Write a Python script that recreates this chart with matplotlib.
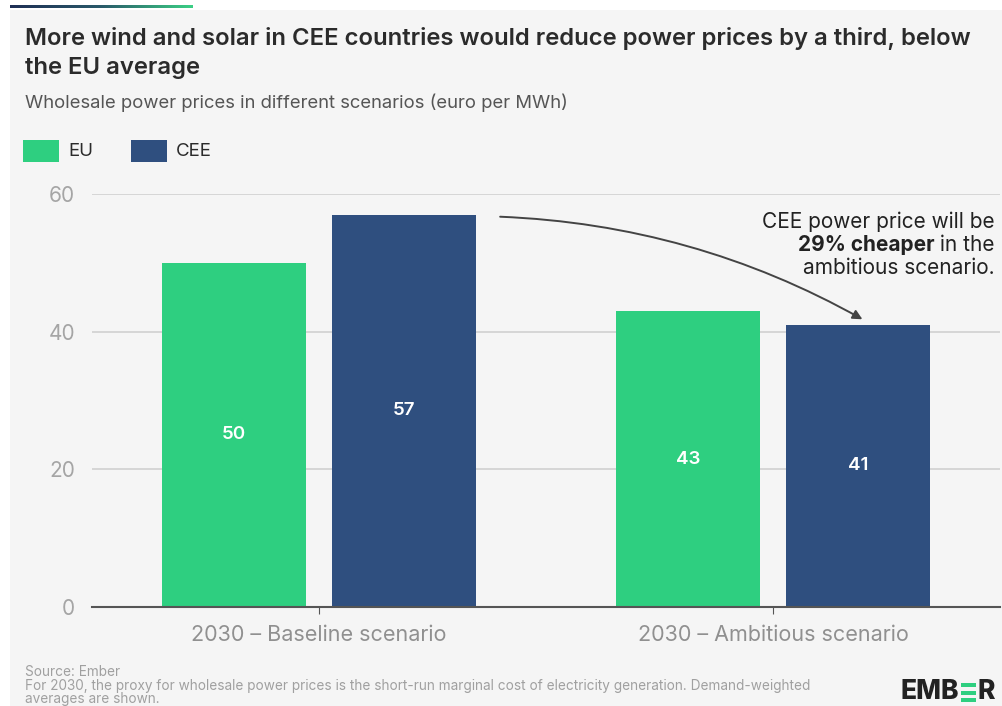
import numpy as np
import matplotlib.pyplot as plt
from matplotlib.patches import Rectangle

scenarios = ["2030 – Baseline scenario", "2030 – Ambitious scenario"]
eu_prices = [50, 43]
cee_prices = [57, 41]
yticks = [0, 20, 40, 60]

GREEN = "#2ecf80"
NAVY = "#2f4f7f"
BG = "#f5f5f5"

plt.rcParams["font.family"] = ["Inter", "DejaVu Sans"]

W, H = 1002, 706
fig = plt.figure(figsize=(W / 100, H / 100), dpi=100, facecolor="white")


def fx(px):
    return px / W


def fy(py):
    return 1 - py / H


# grey card behind everything, with the gradient strip above it
fig.patches.append(Rectangle((fx(10), 0), fx(W - 10), fy(10), transform=fig.transFigure,
                             facecolor=BG, edgecolor="none", zorder=-10))
grad = np.linspace(0, 1, 256).reshape(1, -1)
gax = fig.add_axes([fx(10), fy(8), fx(183), 3 / H])
gax.imshow(grad, aspect="auto",
           cmap=plt.matplotlib.colors.LinearSegmentedColormap.from_list("g", ["#1f2f55", "#2a5a6a", "#3ccf85"]))
gax.axis("off")

ax = fig.add_axes([fx(92), fy(607), fx(1000) - fx(92), fy(194) - fy(607)])
ax.set_facecolor(BG)

x = np.arange(len(scenarios))
w = 0.317
off = 0.187
b1 = ax.bar(x - off, eu_prices, w, color=GREEN, zorder=3)
b2 = ax.bar(x + off, cee_prices, w, color=NAVY, zorder=3)

for bars, vals in [(b1, eu_prices), (b2, cee_prices)]:
    for bar, v in zip(bars, vals):
        ax.text(bar.get_x() + bar.get_width() / 2, v / 2, f"{v}", ha="center", va="center",
                color="white", fontsize=13.5, fontweight="semibold", zorder=4)

ax.set_xlim(-0.5, 1.5)
ax.set_ylim(0, 60)
ax.set_yticks(yticks)
ax.set_yticklabels([str(t) for t in yticks], color="#a5a5a5", fontsize=15)
ax.grid(axis="y", color="#d0d0d0", linewidth=1.2, zorder=0)
ax.tick_params(axis="y", length=0, pad=12)
ax.set_xticks(x)
ax.set_xticklabels(scenarios, color="#909090", fontsize=15.5)
ax.tick_params(axis="x", length=5, color="#555555", pad=8)
for s in ["top", "right", "left"]:
    ax.spines[s].set_visible(False)
ax.spines["bottom"].set_color("#555555")
ax.spines["bottom"].set_linewidth(1.5)
ax.spines["bottom"].set_zorder(5)

# arrow from the baseline CEE bar to the ambitious one
ax.annotate("", xy=(1 + off + 0.01, cee_prices[1] + 0.8), xytext=(off + 0.212, cee_prices[0] - 0.3),
            arrowprops=dict(arrowstyle="-|>", color="#444444", lw=1.4, mutation_scale=14,
                            connectionstyle="arc3,rad=-0.12", shrinkA=0, shrinkB=0), zorder=6)

note_fs = 15
fig.text(fx(995), fy(222), "CEE power price will be", ha="right", va="center", fontsize=note_fs, color="#222222")
t1 = fig.text(fx(995), fy(245), " in the", ha="right", va="center", fontsize=note_fs, color="#222222")
fig.canvas.draw()
bb = t1.get_window_extent()
fig.text(bb.x0 / W, fy(245), "29% cheaper", ha="right", va="center", fontsize=note_fs,
         fontweight="bold", color="#222222")
fig.text(fx(995), fy(268), "ambitious scenario.", ha="right", va="center", fontsize=note_fs, color="#222222")

# titles and legend
fig.text(fx(25), fy(38), "More wind and solar in CEE countries would reduce power prices by a third, below",
         ha="left", va="center", fontsize=17.2, fontweight="semibold", color="#2b2b2b")
fig.text(fx(25), fy(68), "the EU average", ha="left", va="center", fontsize=17.2,
         fontweight="semibold", color="#2b2b2b")
fig.text(fx(25), fy(103), "Wholesale power prices in different scenarios (euro per MWh)",
         ha="left", va="center", fontsize=13.3, color="#555555")

for x0, lab, col in [(23, "EU", GREEN), (131, "CEE", NAVY)]:
    fig.patches.append(Rectangle((fx(x0), fy(162)), fx(36), 22 / H, transform=fig.transFigure,
                                 facecolor=col, edgecolor="none"))
    fig.text(fx(x0 + 45), fy(151), lab, ha="left", va="center", fontsize=13.5, color="#2b2b2b")

# footer
foot_fs = 9.8
fig.text(fx(25), fy(672), "Source: Ember", ha="left", va="center", fontsize=foot_fs, color="#a0a0a0")
fig.text(fx(25), fy(686), "For 2030, the proxy for wholesale power prices is the short-run marginal cost of "
         "electricity generation. Demand-weighted", ha="left", va="center", fontsize=foot_fs, color="#a0a0a0")
fig.text(fx(25), fy(699), "averages are shown.", ha="left", va="center", fontsize=foot_fs, color="#a0a0a0")

lt = fig.text(fx(900), fy(692), "EMB", ha="left", va="center", fontsize=19, fontweight="heavy", color="#222222")
fig.canvas.draw()
lb = lt.get_window_extent()
ex = lb.x1 + 2
for i in range(3):
    fig.patches.append(Rectangle((ex / W, (lb.y0 + 3 + i * 7.5) / H), 15 / W, 4 / H,
                                 transform=fig.transFigure, facecolor=GREEN, edgecolor="none"))
fig.text((ex + 17) / W, fy(692), "R", ha="left", va="center", fontsize=19, fontweight="heavy", color="#222222")

fig.savefig("out.png", dpi=100, facecolor=fig.get_facecolor())
